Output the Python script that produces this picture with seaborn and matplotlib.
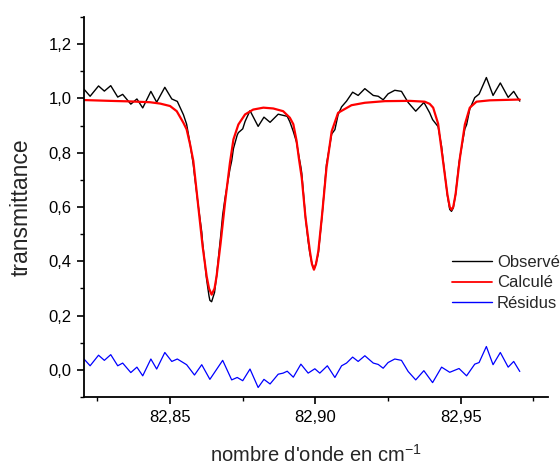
import matplotlib
matplotlib.use("Agg")
import matplotlib.pyplot as plt
import seaborn as sns
import pandas as pd
from matplotlib.ticker import MultipleLocator, FuncFormatter

# ---------------- data ----------------
x_obs = [82.8204, 82.8225, 82.8254, 82.8274, 82.8296, 82.8320, 82.8337, 82.8365, 82.8386, 82.8406,
         82.8434, 82.8454, 82.8482, 82.8506, 82.8525, 82.8546, 82.8557, 82.8569, 82.8580, 82.8584,
         82.8597, 82.8609, 82.8612, 82.8626, 82.8634, 82.8637, 82.8643, 82.8653, 82.8660, 82.8674,
         82.8681, 82.8689, 82.8706, 82.8712, 82.8718, 82.8731, 82.8735, 82.8750, 82.8758, 82.8775,
         82.8803, 82.8823, 82.8844, 82.8872, 82.8903, 82.8912, 82.8924, 82.8935, 82.8943, 82.8950,
         82.8953, 82.8966, 82.8975, 82.8981, 82.8988, 82.8995, 82.8998, 82.9002, 82.9010, 82.9015,
         82.9023, 82.9038, 82.9041, 82.9056, 82.9067, 82.9078, 82.9090, 82.9107, 82.9128, 82.9147,
         82.9170, 82.9199, 82.9216, 82.9233, 82.9250, 82.9273, 82.9296, 82.9319, 82.9345, 82.9373,
         82.9376, 82.9393, 82.9403, 82.9422, 82.9434, 82.9439, 82.9454, 82.9462, 82.9468, 82.9474,
         82.9482, 82.9494, 82.9497, 82.9514, 82.9520, 82.9531, 82.9548, 82.9563, 82.9588, 82.9611,
         82.9636, 82.9663, 82.9682, 82.9703]
observe = [1.034, 1.008, 1.046, 1.027, 1.047, 1.005, 1.015, 0.979, 0.998, 0.965,
           1.026, 0.986, 1.041, 0.998, 0.989, 0.940, 0.905, 0.832, 0.756, 0.718,
           0.605, 0.508, 0.468, 0.331, 0.272, 0.256, 0.251, 0.285, 0.346, 0.492,
           0.571, 0.632, 0.740, 0.770, 0.815, 0.865, 0.874, 0.888, 0.915, 0.955,
           0.897, 0.931, 0.912, 0.942, 0.934, 0.914, 0.878, 0.839, 0.788, 0.747,
           0.725, 0.560, 0.474, 0.429, 0.392, 0.371, 0.379, 0.391, 0.430, 0.482,
           0.569, 0.757, 0.775, 0.869, 0.885, 0.940, 0.969, 0.990, 1.023, 1.011,
           1.036, 1.011, 1.008, 0.995, 1.017, 1.030, 1.026, 0.985, 0.953, 0.985,
           0.980, 0.947, 0.922, 0.896, 0.823, 0.775, 0.642, 0.591, 0.584, 0.596,
           0.646, 0.764, 0.783, 0.888, 0.903, 0.961, 1.003, 1.016, 1.077, 1.011,
           1.057, 1.004, 1.026, 0.990]

x_calc = [82.8204, 82.8294, 82.8363, 82.8431, 82.8466, 82.8500, 82.8523, 82.8546, 82.8557, 82.8569,
          82.8580, 82.8597, 82.8612, 82.8626, 82.8634, 82.8643, 82.8653, 82.8660, 82.8674, 82.8689,
          82.8706, 82.8718, 82.8735, 82.8758, 82.8786, 82.8821, 82.8855, 82.8889, 82.8912, 82.8924,
          82.8935, 82.8943, 82.8953, 82.8966, 82.8981, 82.8988, 82.8995, 82.9002, 82.9010, 82.9023,
          82.9038, 82.9056, 82.9078, 82.9124, 82.9170, 82.9239, 82.9325, 82.9376, 82.9393, 82.9405,
          82.9422, 82.9439, 82.9454, 82.9462, 82.9468, 82.9474, 82.9482, 82.9497, 82.9514, 82.9531,
          82.9554, 82.9600, 82.9703]
calcule = [0.994, 0.991, 0.989, 0.986, 0.981, 0.972, 0.953, 0.910, 0.886, 0.830,
           0.770, 0.603, 0.455, 0.344, 0.300, 0.277, 0.300, 0.344, 0.468, 0.615,
           0.763, 0.849, 0.904, 0.941, 0.959, 0.966, 0.963, 0.953, 0.929, 0.905,
           0.845, 0.780, 0.707, 0.560, 0.437, 0.390, 0.369, 0.390, 0.437, 0.572,
           0.744, 0.879, 0.947, 0.975, 0.984, 0.990, 0.991, 0.988, 0.980, 0.966,
           0.907, 0.769, 0.646, 0.600, 0.590, 0.600, 0.646, 0.781, 0.904, 0.966,
           0.988, 0.993, 0.996]

x_res = [82.8204, 82.8225, 82.8254, 82.8274, 82.8296, 82.8320, 82.8337, 82.8365, 82.8386, 82.8406,
         82.8434, 82.8454, 82.8482, 82.8506, 82.8525, 82.8557, 82.8584, 82.8609, 82.8637, 82.8681,
         82.8712, 82.8731, 82.8750, 82.8775, 82.8803, 82.8823, 82.8844, 82.8872, 82.8889, 82.8903,
         82.8924, 82.8950, 82.8975, 82.8998, 82.9015, 82.9041, 82.9067, 82.9090, 82.9107, 82.9128,
         82.9147, 82.9170, 82.9199, 82.9216, 82.9233, 82.9250, 82.9273, 82.9296, 82.9319, 82.9345,
         82.9373, 82.9403, 82.9434, 82.9462, 82.9494, 82.9520, 82.9548, 82.9563, 82.9588, 82.9611,
         82.9636, 82.9663, 82.9682, 82.9703]
residus = [0.040, 0.015, 0.054, 0.035, 0.056, 0.015, 0.025, -0.010, 0.010, -0.022,
           0.040, 0.003, 0.064, 0.031, 0.040, 0.019, -0.019, 0.019, -0.035, 0.035,
           -0.037, -0.028, -0.040, 0.003, -0.065, -0.035, -0.052, -0.016, -0.012, -0.005,
           -0.027, 0.021, -0.012, 0.004, -0.012, 0.015, -0.028, 0.015, 0.025, 0.047,
           0.031, 0.052, 0.025, 0.020, 0.006, 0.027, 0.040, 0.035, -0.006, -0.037,
           -0.003, -0.047, 0.010, -0.009, 0.005, -0.022, 0.021, 0.027, 0.086, 0.019,
           0.064, 0.010, 0.031, -0.006]

series_labels = ["Observé", "Calculé", "Résidus"]
x_ticks = [82.85, 82.90, 82.95]
y_ticks = [0.0, 0.2, 0.4, 0.6, 0.8, 1.0, 1.2]

# ---------------- plotting ----------------
sns.set_style("ticks")
plt.rcParams["font.family"] = ["Liberation Sans", "DejaVu Sans"]
plt.rcParams["mathtext.default"] = "regular"

fig = plt.figure(figsize=(5.6, 4.66), dpi=100)
ax = fig.add_axes([84 / 560, 1 - 397 / 466, (548 - 84) / 560, (397 - 17) / 466])

df_obs = pd.DataFrame({"x": x_obs, "y": observe})
df_calc = pd.DataFrame({"x": x_calc, "y": calcule})
df_res = pd.DataFrame({"x": x_res, "y": residus})

kw = dict(sort=False, estimator=None, solid_joinstyle="round", solid_capstyle="round")
sns.lineplot(data=df_obs, x="x", y="y", ax=ax, color="black", linewidth=1.0,
             label=series_labels[0], **kw)
sns.lineplot(data=df_calc, x="x", y="y", ax=ax, color="#ff0000", linewidth=1.6,
             label=series_labels[1], **kw)
sns.lineplot(data=df_res, x="x", y="y", ax=ax, color="#0000ff", linewidth=0.9,
             label=series_labels[2], **kw)

ax.set_xlim(82.8204, 82.9800)
ax.set_ylim(-0.1, 1.3)
ax.set_xticks(x_ticks)
ax.set_yticks(y_ticks)
ax.xaxis.set_minor_locator(MultipleLocator(0.025))
ax.yaxis.set_minor_locator(MultipleLocator(0.1))
ax.xaxis.set_major_formatter(FuncFormatter(lambda v, p: f"{v:.2f}".replace(".", ",")))
ax.yaxis.set_major_formatter(FuncFormatter(lambda v, p: f"{v:.1f}".replace(".", ",")))

for s in ["top", "right"]:
    ax.spines[s].set_visible(False)
for s in ["left", "bottom"]:
    ax.spines[s].set_linewidth(1.3)
    ax.spines[s].set_color("black")

ax.tick_params(axis="both", which="major", direction="out", length=5, width=1.2,
               labelsize=12, colors="black", pad=4)
ax.tick_params(axis="both", which="minor", direction="out", length=3, width=1.0, colors="black")

ax.set_xlabel("nombre d'onde en cm$^{-1}$", fontsize=14.5, labelpad=14)
ax.set_ylabel("transmittance", fontsize=16.5, labelpad=11)

leg = ax.legend(loc="upper left", bbox_to_anchor=(452 / 560, 1 - 255 / 466),
                bbox_transform=fig.transFigure, frameon=False, fontsize=12,
                handlelength=2.4, handletextpad=0.3, labelspacing=0.32,
                borderpad=0, borderaxespad=0)
for line in leg.get_lines():
    line.set_linewidth(1.0)
leg.get_lines()[1].set_linewidth(1.3)

fig.savefig("out.png", dpi=100)
